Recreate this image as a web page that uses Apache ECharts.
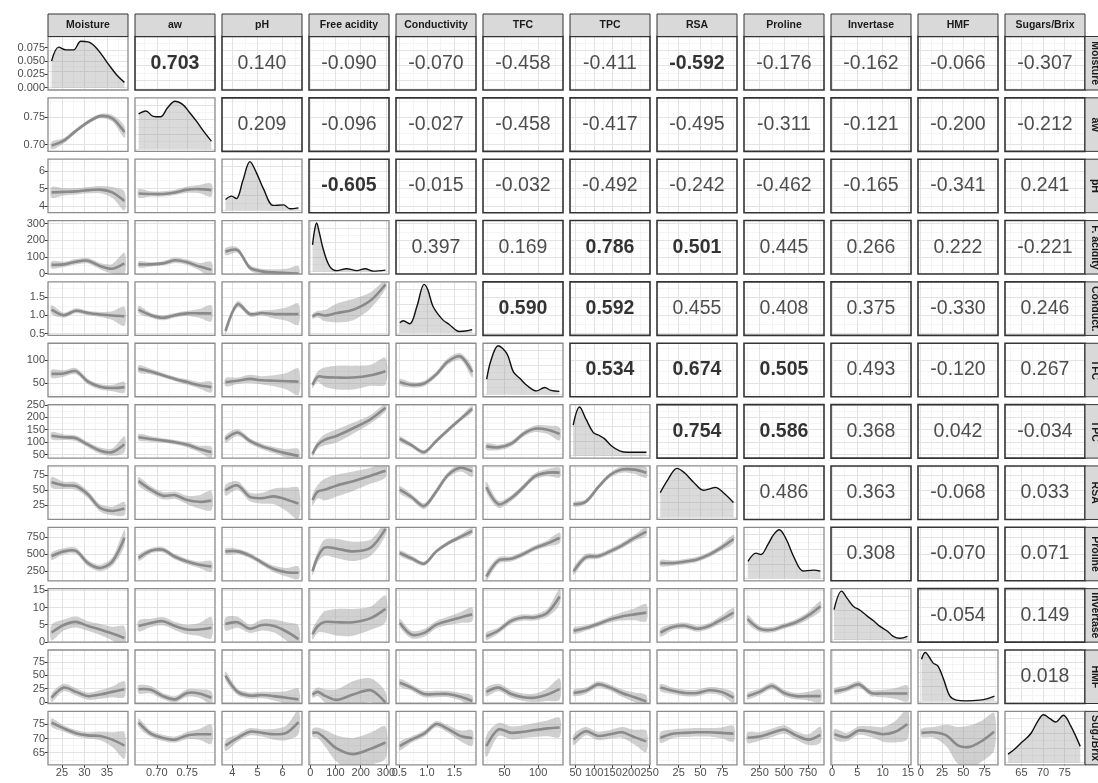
<!DOCTYPE html>
<html>
<head>
<meta charset="utf-8">
<script src="https://cdn.jsdelivr.net/npm/echarts@6/dist/echarts.min.js"></script>
<style>html,body{margin:0;padding:0;background:#fff}#chart{width:1098px;height:783px}</style>
</head>
<body>
<div id="chart"></div>
<script>
// 变量名（上方与右侧条带）
const topNames = ['Moisture', 'aw', 'pH', 'Free acidity', 'Conductivity', 'TFC', 'TPC', 'RSA', 'Proline', 'Invertase', 'HMF', 'Sugars/Brix'];
const sideNames = ['Moisture', 'aw', 'pH', 'F. acidity', 'Conduct.', 'TFC', 'TPC', 'RSA', 'Proline', 'Invertase', 'HMF', 'Sug./Brix'];

// 坐标范围（列=x，行=y）
const colRange = [[21.9, 39.7], [0.664, 0.796], [3.59, 6.77], [-5, 312], [0.44, 1.89], [18, 137], [35, 251], [0, 92], [88, 915], [-0.2, 15.6], [-3.2, 90.6], [61.2, 79.7]];
const rowRange = [[21.9, 39.7], [0.6875, 0.7855], [3.63, 6.69], [-3, 318], [0.448, 1.91], [20, 137], [36, 251], [2, 90], [110, 897], [-0.1, 15.5], [-2.8, 97.5], [60.7, 79.6]];
const densRange0 = [-0.0043, 0.096];
const densRangeRel = [-0.05, 1.05];

// 刻度
const majorTicks = [[25, 30, 35], [0.70, 0.75], [4, 5, 6], [0, 100, 200, 300], [0.5, 1.0, 1.5], [50, 100], [50, 100, 150, 200, 250], [25, 50, 75], [250, 500, 750], [0, 5, 10, 15], [0, 25, 50, 75], [65, 70, 75]];
const minorTicks = [[22.5, 27.5, 32.5, 37.5], [0.675, 0.725, 0.775], [3.5, 4.5, 5.5, 6.5], [50, 150, 250], [0.75, 1.25, 1.75], [25, 75, 125], [75, 125, 175, 225], [12.5, 37.5, 62.5, 87.5], [125, 375, 625, 875], [2.5, 7.5, 12.5], [12.5, 37.5, 62.5, 87.5], [62.5, 67.5, 72.5, 77.5]];
const tickDecimals = [0, 2, 0, 0, 1, 0, 0, 0, 0, 0, 0, 0];
const densMajor0 = [0, 0.025, 0.05, 0.075];
const densMinor0 = [0.0125, 0.0375, 0.0625, 0.0875];
const densMajorRel = [0, 0.3, 0.6, 0.9];
const densMinorRel = [0.15, 0.45, 0.75];

// 相关系数（上三角，逐行）
const corrRows = [
    [0.703, 0.140, -0.090, -0.070, -0.458, -0.411, -0.592, -0.176, -0.162, -0.066, -0.307],
    [0.209, -0.096, -0.027, -0.458, -0.417, -0.495, -0.311, -0.121, -0.200, -0.212],
    [-0.605, -0.015, -0.032, -0.492, -0.242, -0.462, -0.165, -0.341, 0.241],
    [0.397, 0.169, 0.786, 0.501, 0.445, 0.266, 0.222, -0.221],
    [0.590, 0.592, 0.455, 0.408, 0.375, -0.330, 0.246],
    [0.534, 0.674, 0.505, 0.493, -0.120, 0.267],
    [0.754, 0.586, 0.368, 0.042, -0.034],
    [0.486, 0.363, -0.068, 0.033],
    [0.308, -0.070, 0.071],
    [-0.054, 0.149],
    [0.018]
];

// 平滑曲线的 x 采样点（按列变量）
const smoothX = [
    [22.7, 25.4, 28.1, 30.8, 33.5, 36.2, 38.9],
    [0.670, 0.690, 0.710, 0.730, 0.750, 0.770, 0.790],
    [3.73, 4.21, 4.70, 5.18, 5.66, 6.15, 6.63],
    [9, 30, 57, 106, 170, 240, 298],
    [0.51, 0.72, 0.95, 1.17, 1.38, 1.61, 1.82],
    [23, 41, 60, 78, 95, 114, 132],
    [45, 77, 111, 143, 175, 209, 241],
    [4, 18, 32, 46, 60, 74, 88],
    [125, 249, 377, 502, 626, 754, 878],
    [0.5, 2.9, 5.3, 7.7, 10.1, 12.5, 14.9],
    [1, 15, 30, 44, 58, 72, 86]
];

// 平滑曲线（loess）估计值与置信带半宽，按行变量，每行依列排列
const fitAw = [[0.698, 0.707, 0.725, 0.741, 0.752, 0.748, 0.723]];
const bandAw = [[0.007, 0.005, 0.004, 0.004, 0.004, 0.006, 0.011]];
const fitPH = [[4.79, 4.82, 4.85, 4.92, 4.95, 4.79, 4.30], [4.73, 4.70, 4.70, 4.79, 4.95, 4.98, 4.92]];
const bandPH = [[0.31, 0.21, 0.18, 0.18, 0.21, 0.31, 0.55], [0.24, 0.15, 0.15, 0.15, 0.18, 0.24, 0.37]];
const fitFA = [[52, 55, 71, 77, 45, 29, 61], [55, 55, 61, 80, 68, 42, 23], [132, 141, 35, 13, 7, 3, 0]];
const bandFA = [[22, 16, 16, 16, 19, 29, 64], [19, 13, 13, 16, 16, 22, 48], [22, 16, 16, 16, 19, 26, 45]];
const fitCond = [[1.15, 1.00, 1.12, 1.06, 1.02, 0.99, 0.97], [1.15, 1.00, 0.93, 1.00, 1.05, 1.05, 1.05], [0.57, 1.30, 1.03, 1.06, 1.03, 1.03, 1.03], [0.97, 1.03, 0.99, 1.06, 1.15, 1.41, 1.84]];
const bandCond = [[0.12, 0.07, 0.07, 0.06, 0.07, 0.12, 0.26], [0.10, 0.07, 0.07, 0.06, 0.07, 0.12, 0.22], [0.09, 0.09, 0.07, 0.07, 0.12, 0.18, 0.29], [0.07, 0.09, 0.15, 0.26, 0.29, 0.22, 0.12]];
const fitTFC = [[70, 71, 76, 53, 42, 39, 41], [81, 75, 67, 59, 52, 45, 41], [52, 55, 59, 56, 55, 54, 53], [46, 64, 63, 62, 62, 67, 76], [52, 46, 49, 69, 97, 108, 74]];
const bandTFC = [[9, 7, 7, 6, 6, 7, 12], [8, 6, 5, 5, 6, 7, 12], [9, 7, 9, 9, 12, 18, 29], [7, 12, 21, 26, 26, 23, 29], [7, 6, 6, 6, 7, 7, 12]];
const fitTPC = [[126, 120, 116, 90, 66, 60, 92], [120, 113, 107, 100, 90, 73, 60], [113, 139, 105, 83, 68, 55, 45], [53, 90, 109, 126, 156, 193, 238], [113, 88, 60, 105, 148, 193, 234], [83, 79, 94, 133, 154, 150, 133]];
const bandTPC = [[15, 11, 11, 11, 13, 15, 32], [13, 11, 9, 9, 11, 13, 22], [15, 13, 11, 11, 13, 17, 28], [11, 15, 22, 26, 22, 17, 15], [11, 9, 9, 9, 9, 9, 13], [13, 11, 11, 11, 13, 17, 26]];
const fitRSA = [[63, 58, 57, 43, 21, 16, 20], [65, 51, 41, 42, 34, 31, 33], [50, 58, 39, 37, 40, 35, 28], [34, 48, 51, 58, 65, 74, 82], [51, 39, 24, 48, 75, 87, 81], [55, 27, 37, 55, 73, 79, 79], [27, 31, 55, 75, 84, 84, 79]];
const bandRSA = [[9, 6, 6, 6, 6, 7, 11], [7, 6, 6, 6, 7, 11, 16], [9, 7, 7, 9, 13, 19, 26], [9, 11, 18, 18, 16, 13, 11], [6, 5, 5, 5, 5, 6, 9], [9, 6, 5, 5, 5, 6, 8], [4, 4, 4, 4, 5, 7, 9]];
const fitPro = [[472, 543, 551, 370, 299, 393, 740], [448, 551, 566, 464, 393, 346, 322], [543, 543, 480, 378, 283, 236, 228], [252, 464, 598, 582, 543, 598, 873], [519, 441, 362, 543, 661, 755, 842], [173, 409, 433, 504, 590, 661, 740], [252, 456, 472, 543, 629, 740, 834], [370, 370, 393, 425, 496, 598, 724]];
const bandPro = [[55, 47, 47, 47, 47, 63, 118], [47, 39, 39, 39, 39, 47, 79], [47, 39, 39, 39, 47, 63, 94], [63, 79, 118, 142, 142, 118, 94], [39, 39, 31, 31, 31, 39, 47], [63, 47, 39, 39, 39, 47, 79], [55, 47, 39, 39, 39, 47, 63], [47, 39, 39, 39, 39, 47, 63]];
const fitInv = [[2.7, 4.9, 5.8, 4.6, 3.6, 2.4, 1.1], [4.6, 5.5, 6.0, 4.6, 3.6, 3.6, 4.1], [5.2, 5.7, 3.8, 4.9, 4.6, 3.0, 0.8], [2.2, 4.6, 5.8, 5.7, 5.7, 6.9, 9.6], [5.5, 2.1, 2.6, 5.0, 6.1, 7.1, 8.0], [1.6, 3.3, 6.1, 7.1, 7.1, 8.5, 13.2], [3.2, 4.0, 5.2, 6.5, 7.4, 8.0, 8.5], [2.7, 4.3, 4.7, 3.8, 4.6, 6.5, 8.5], [6.6, 3.8, 3.5, 4.6, 5.7, 7.7, 10.4]];
const bandInv = [[2.3, 1.6, 1.6, 1.4, 1.6, 2.0, 3.4], [1.6, 1.2, 1.2, 1.2, 1.4, 1.9, 3.1], [1.9, 1.6, 1.2, 1.6, 1.9, 2.7, 3.9], [1.6, 1.9, 3.1, 3.9, 3.9, 3.4, 3.9], [1.2, 1.1, 1.1, 1.1, 1.2, 1.6, 2.0], [1.1, 0.9, 0.9, 0.9, 0.9, 1.2, 2.3], [0.9, 0.8, 0.8, 0.9, 1.2, 1.7, 2.5], [1.2, 0.9, 0.9, 0.9, 0.9, 1.1, 1.4], [1.2, 0.9, 0.8, 0.8, 0.9, 1.1, 1.4]];
const fitHMF = [[8, 27, 19, 11, 14, 19, 24], [24, 23, 11, 5, 17, 16, 8], [49, 19, 12, 13, 11, 8, 5], [14, 19, 12, 4, 14, 22, -1], [36, 27, 15, 15, 15, 10, 2], [19, 27, 15, 9, 8, 14, 24], [17, 21, 33, 27, 17, 9, 1], [27, 21, 17, 17, 22, 19, 8], [11, 19, 30, 17, 11, 11, 11], [20, 25, 33, 17, 16, 16, 16]];
const bandHMF = [[8, 7, 7, 7, 8, 10, 15], [8, 7, 6, 6, 7, 8, 12], [8, 6, 6, 6, 8, 12, 20], [6, 8, 12, 20, 25, 22, 20], [7, 6, 6, 6, 6, 7, 10], [8, 7, 7, 7, 8, 12, 20], [6, 6, 6, 6, 7, 9, 12], [7, 6, 6, 6, 6, 7, 10], [6, 6, 6, 6, 6, 8, 12], [6, 6, 6, 6, 7, 10, 15]];
const fitSug = [[75.6, 73.6, 71.9, 71.1, 70.9, 69.6, 67.5], [75.6, 71.7, 70.2, 69.6, 71.1, 71.5, 71.5], [67.5, 70.2, 72.4, 72.0, 71.5, 72.0, 75.8], [72.0, 72.0, 70.2, 66.4, 64.5, 66.4, 68.6], [67.3, 69.6, 71.7, 75.1, 73.4, 70.9, 70.2], [67.3, 73.2, 72.0, 72.4, 73.0, 73.6, 73.9], [69.6, 72.6, 70.9, 71.5, 72.2, 70.5, 69.0], [70.3, 71.7, 72.0, 72.2, 72.2, 72.0, 71.7], [70.3, 70.7, 72.0, 73.2, 71.1, 69.6, 71.3], [71.5, 70.5, 72.8, 72.4, 71.5, 72.4, 75.1], [72.0, 72.2, 71.1, 67.5, 67.1, 69.2, 72.4]];
const bandSug = [[1.5, 1.1, 1.1, 1.1, 1.5, 2.6, 4.7], [1.5, 1.1, 1.1, 1.1, 1.3, 1.9, 3.4], [1.9, 1.3, 1.3, 1.3, 1.9, 2.6, 4.2], [1.5, 1.9, 2.8, 4.7, 5.7, 5.7, 5.7], [1.5, 1.1, 1.1, 1.1, 1.3, 1.9, 2.8], [3.8, 2.3, 2.3, 2.3, 2.5, 2.8, 3.4], [1.9, 1.5, 1.5, 1.5, 1.9, 2.6, 3.8], [1.9, 1.5, 1.5, 1.5, 1.5, 1.9, 2.8], [1.9, 1.5, 1.5, 1.5, 1.5, 1.9, 2.8], [1.9, 1.5, 1.5, 1.9, 2.6, 3.8, 5.3], [1.5, 1.9, 3.8, 6.6, 7.6, 7.2, 6.6]];
const fitRows = [null, fitAw, fitPH, fitFA, fitCond, fitTFC, fitTPC, fitRSA, fitPro, fitInv, fitHMF, fitSug];
const bandRows = [null, bandAw, bandPH, bandFA, bandCond, bandTFC, bandTPC, bandRSA, bandPro, bandInv, bandHMF, bandSug];

// 对角线密度曲线（第一个为真实密度，其余按峰值缩放）
const densX = [
    [22.7, 24.3, 25.9, 27.6, 29.2, 30.8, 32.4, 34.0, 35.7, 37.3, 38.9],
    [0.670, 0.682, 0.694, 0.706, 0.718, 0.730, 0.742, 0.754, 0.766, 0.778, 0.790],
    [3.73, 3.97, 4.16, 4.42, 4.70, 4.96, 5.24, 5.63, 6.04, 6.29, 6.63],
    [9, 17, 25, 36, 52, 77, 106, 144, 185, 217, 249, 298],
    [0.51, 0.57, 0.69, 0.82, 0.95, 1.02, 1.11, 1.28, 1.41, 1.59, 1.70, 1.82],
    [23.5, 29.9, 40.6, 53.7, 63.2, 72.7, 83.5, 97.7, 109.6, 119.2, 131.6],
    [43.6, 60.9, 78.2, 97.6, 112.8, 127.9, 147.3, 168.9, 190.5, 218.6, 241.3],
    [3.7, 12.9, 23.0, 32.2, 42.3, 53.4, 60.7, 67.2, 76.4, 87.9],
    [129, 212, 262, 336, 394, 452, 526, 601, 700, 807, 878],
    [0.4, 1.9, 3.0, 4.2, 5.6, 6.9, 8.2, 9.4, 10.9, 12.1, 13.4, 14.9],
    [1.0, 5.2, 14.6, 20.3, 26.8, 34.3, 41.8, 53.1, 69.0, 78.4, 86.4],
    [61.9, 63.4, 64.9, 66.2, 67.3, 68.8, 70.1, 71.6, 72.9, 74.7, 76.4, 78.6]
];
const densY = [
    [0.050, 0.076, 0.071, 0.071, 0.087, 0.086, 0.077, 0.060, 0.040, 0.023, 0.010],
    [0.72, 0.78, 0.67, 0.66, 0.85, 0.98, 0.92, 0.75, 0.56, 0.35, 0.16],
    [0.22, 0.29, 0.24, 0.61, 1.0, 0.77, 0.44, 0.10, 0.11, 0.03, 0.05],
    [0.55, 0.85, 1.0, 0.80, 0.45, 0.11, 0.02, 0.06, 0.02, 0.06, 0.01, 0.03],
    [0.21, 0.25, 0.19, 0.55, 1.0, 0.88, 0.55, 0.28, 0.17, 0.03, 0.04, 0.07],
    [0.31, 0.70, 1.0, 0.83, 0.46, 0.33, 0.18, 0.07, 0.14, 0.08, 0.06],
    [0.63, 1.0, 0.75, 0.48, 0.42, 0.35, 0.20, 0.10, 0.07, 0.07, 0.07],
    [0.50, 0.78, 1.0, 0.90, 0.71, 0.55, 0.58, 0.61, 0.50, 0.30],
    [0.35, 0.52, 0.49, 0.70, 0.90, 1.0, 0.80, 0.45, 0.15, 0.17, 0.15],
    [0.62, 1.0, 0.85, 0.69, 0.60, 0.49, 0.39, 0.28, 0.18, 0.07, 0.03, 0.07],
    [0.86, 1.0, 0.78, 0.72, 0.45, 0.10, 0.02, 0.005, 0.02, 0.05, 0.10],
    [0.17, 0.27, 0.40, 0.50, 0.61, 0.85, 0.98, 0.90, 0.83, 0.97, 0.75, 0.33]
];

// 布局
const N = 12;
const L0 = 48, PW = 80, PSTEP = 87;
const T0 = 36.5, PH = 53.5, RSTEP = 61.35;
const FONT = 'Liberation Sans, Arial, Helvetica, sans-serif';

const majStyle = { color: '#e3e3e3', width: 1, type: 'solid' };
const minStyle = { color: '#f1f1f1', width: 0.7, type: 'solid' };

const chart = echarts.init(document.getElementById('chart'));
const grids = [], xAxes = [], yAxes = [], series = [], graphics = [];

function inside(v, r) { return v >= r[0] && v <= r[1]; }

// 平滑带 + 平滑线（custom 系列，用坐标轴换算）
function smoothRenderer(xs, fy, bd) {
    return function (params, api) {
        const up = xs.map((x, i) => api.coord([x, fy[i] + bd[i]]));
        const lo = xs.map((x, i) => api.coord([x, fy[i] - bd[i]])).reverse();
        const mid = xs.map((x, i) => api.coord([x, fy[i]]));
        return {
            type: 'group',
            children: [
                { type: 'polygon', shape: { points: up.concat(lo), smooth: 0.3 }, style: { fill: 'rgba(150,150,150,0.45)' } },
                { type: 'polyline', shape: { points: mid, smooth: 0.3 }, style: { stroke: '#8a8a8a', lineWidth: 2.6, fill: null } }
            ]
        };
    };
}

for (let r = 0; r < N; r++) {
    for (let c = 0; c < N; c++) {
        const p = r * N + c;
        const left = L0 + c * PSTEP;
        const top = T0 + r * RSTEP;
        const isDiag = r === c;
        const xr = colRange[c];
        const yr = isDiag ? (r === 0 ? densRange0 : densRangeRel) : rowRange[r];

        grids.push({ left: left, top: top, width: PW, height: PH, show: true, backgroundColor: '#fff', borderWidth: 0 });

        // x 轴（只有最下面一行显示刻度）
        const xTicks = majorTicks[c].filter(v => inside(v, xr));
        xAxes.push({
            gridIndex: p, type: 'value', min: xr[0], max: xr[1],
            axisLine: { show: false }, splitLine: { show: false },
            axisTick: { show: r === N - 1, customValues: xTicks, length: 3, lineStyle: { color: '#333', width: 1 } },
            axisLabel: {
                show: r === N - 1, customValues: xTicks, margin: 3, fontSize: 11, color: '#4d4d4d', fontFamily: FONT,
                formatter: v => v.toFixed(tickDecimals[c])
            }
        });

        // y 轴（只有最左边一列显示刻度）
        let yMaj, yMin, yFmt;
        if (isDiag) {
            yMaj = r === 0 ? densMajor0 : densMajorRel;
            yMin = r === 0 ? densMinor0 : densMinorRel;
            yFmt = v => v.toFixed(3);
        } else {
            yMaj = majorTicks[r];
            yMin = minorTicks[r];
            yFmt = v => v.toFixed(tickDecimals[r]);
        }
        const yTicks = yMaj.filter(v => inside(v, yr));
        yAxes.push({
            gridIndex: p, type: 'value', min: yr[0], max: yr[1],
            axisLine: { show: false }, splitLine: { show: false },
            axisTick: { show: c === 0, customValues: yTicks, length: 3, lineStyle: { color: '#333', width: 1 } },
            axisLabel: { show: c === 0, customValues: yTicks, margin: 3, fontSize: 11, color: '#4d4d4d', fontFamily: FONT, formatter: yFmt }
        });

        // 网格线（markLine 默认 z 较高，压到最底层）
        const gl = [];
        minorTicks[c].filter(v => inside(v, xr)).forEach(v => gl.push({ xAxis: v, lineStyle: minStyle }));
        yMin.filter(v => inside(v, yr)).forEach(v => gl.push({ yAxis: v, lineStyle: minStyle }));
        xTicks.forEach(v => gl.push({ xAxis: v, lineStyle: majStyle }));
        yTicks.forEach(v => gl.push({ yAxis: v, lineStyle: majStyle }));
        series.push({
            type: 'line', xAxisIndex: p, yAxisIndex: p, data: [], silent: true, z: 1,
            markLine: { z: 1, silent: true, symbol: ['none', 'none'], animation: false, label: { show: false }, lineStyle: { type: 'solid' }, data: gl }
        });

        if (isDiag) {
            series.push({
                type: 'line', xAxisIndex: p, yAxisIndex: p, z: 3, silent: true,
                data: densX[c].map((x, i) => [x, densY[c][i]]),
                smooth: 0.35, symbol: 'none', showSymbol: false,
                lineStyle: { color: '#111', width: 1.4 },
                areaStyle: { color: 'rgba(140,140,140,0.45)' }
            });
        } else if (r > c) {
            const xs = smoothX[c];
            const fy = fitRows[r][c];
            const bd = bandRows[r][c];
            series.push({
                type: 'custom', xAxisIndex: p, yAxisIndex: p, z: 2, silent: true, clip: true,
                data: [[xs[0], fy[0]]],
                renderItem: smoothRenderer(xs, fy, bd)
            });
        } else {
            const val = corrRows[r][c - r - 1];
            const strong = Math.abs(val) >= 0.5;
            series.push({
                type: 'scatter', xAxisIndex: p, yAxisIndex: p, z: 4, silent: true,
                symbolSize: 1, itemStyle: { color: 'rgba(0,0,0,0)' },
                data: [[(xr[0] + xr[1]) / 2, (yr[0] + yr[1]) / 2, val]],
                label: {
                    show: true, position: 'inside', fontFamily: FONT, fontSize: 19.5,
                    fontWeight: strong ? 'bold' : 'normal', color: strong ? '#000' : '#222',
                    textBorderWidth: 0, textShadowBlur: 0,
                    formatter: d => d.value[2].toFixed(3)
                }
            });
        }

        // 面板边框
        graphics.push({
            type: 'rect', z: 100, silent: true,
            shape: { x: left, y: top, width: PW, height: PH },
            style: { fill: 'none', stroke: r < c ? '#333' : '#8c8c8c', lineWidth: r < c ? 1.6 : 1.3 }
        });
    }
}

// 上方条带
for (let c = 0; c < N; c++) {
    const left = L0 + c * PSTEP;
    graphics.push({
        type: 'rect', z: 101, silent: true,
        shape: { x: left, y: 14, width: PW, height: T0 - 14 },
        style: { fill: '#d9d9d9', stroke: '#333', lineWidth: 1 }
    });
    graphics.push({
        type: 'text', z: 102, silent: true, x: left + PW / 2, y: (14 + T0) / 2,
        style: { text: topNames[c], fill: '#1a1a1a', font: 'bold 10.5px ' + FONT, textAlign: 'center', textVerticalAlign: 'middle' }
    });
}

// 右侧条带
for (let r = 0; r < N; r++) {
    const top = T0 + r * RSTEP;
    const sx = L0 + (N - 1) * PSTEP + PW;
    graphics.push({
        type: 'rect', z: 101, silent: true,
        shape: { x: sx, y: top, width: 22, height: PH },
        style: { fill: '#d9d9d9', stroke: '#333', lineWidth: 1 }
    });
    graphics.push({
        type: 'text', z: 102, silent: true, x: sx + 10, y: top + PH / 2, rotation: -Math.PI / 2,
        style: { text: sideNames[r], fill: '#1a1a1a', font: 'bold 10.5px ' + FONT, textAlign: 'center', textVerticalAlign: 'middle' }
    });
}

chart.setOption({
    animation: false,
    backgroundColor: '#fff',
    grid: grids,
    xAxis: xAxes,
    yAxis: yAxes,
    series: series,
    graphic: graphics
});
</script>
</body>
</html>
